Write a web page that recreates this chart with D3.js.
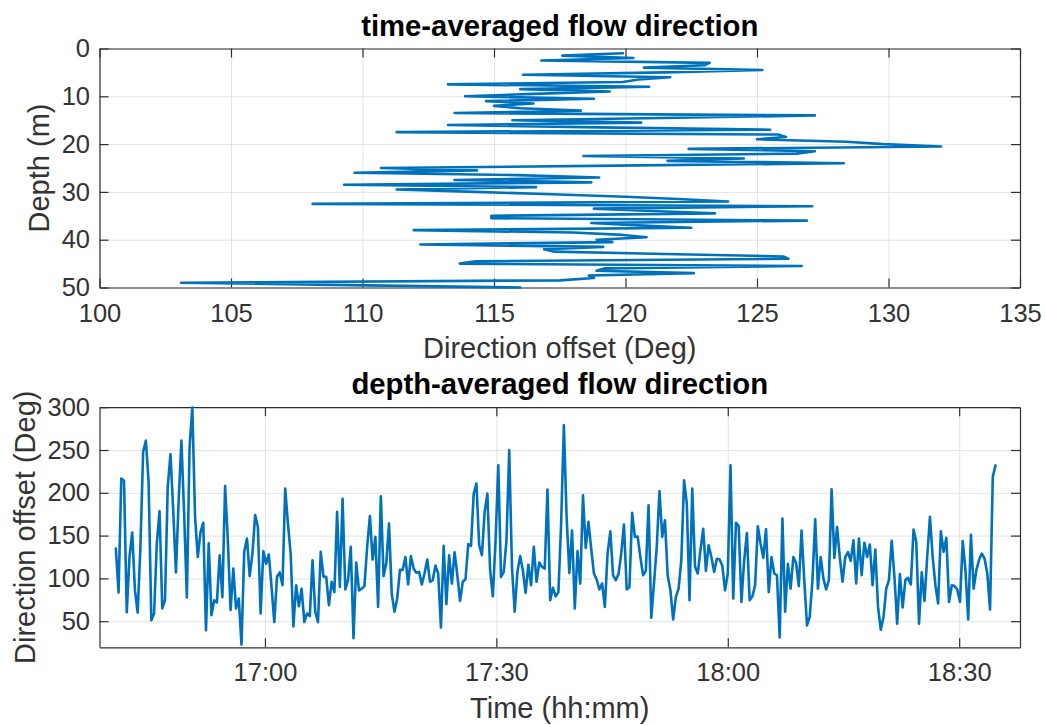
<!DOCTYPE html>
<html>
<head>
<meta charset="utf-8">
<script src="https://cdn.jsdelivr.net/npm/d3@7"></script>
<style>
  body { margin: 0; background: #fff; }
  svg { display: block; font-family: "Liberation Sans", Arial, Helvetica, sans-serif; }
</style>
</head>
<body>
<svg id="chart" width="1045" height="725"></svg>
<script>
// ---- time-averaged profile: direction offset per depth bin ----
const depthBins = [
  1, 1.5, 2, 2.5, 3, 3.5, 4, 4.5, 5, 5.5,
  6, 6.5, 7, 7.5, 8, 8.5, 9, 9.5, 10, 10.5,
  11, 11.5, 12, 12.5, 13, 13.5, 14, 14.5, 15, 15.5,
  16, 16.5, 17, 17.5, 18, 18.5, 19, 19.5, 20, 20.5,
  21, 21.5, 22, 22.5, 23, 23.5, 24, 24.5, 25, 25.5,
  26, 26.5, 27, 27.5, 28, 28.5, 29, 29.5, 30, 30.5,
  31, 31.5, 32, 32.5, 33, 33.5, 34, 34.5, 35, 35.5,
  36, 36.5, 37, 37.5, 38, 38.5, 39, 39.5, 40, 40.5,
  41, 41.5, 42, 42.5, 43, 43.5, 44, 44.5, 45, 45.5,
  46, 46.5, 47, 47.5, 48, 48.5, 49, 49.5, 50
];
const timeAvgDir = [
  119.9, 117.6, 120.3, 116.8, 123.2, 123.0, 120.7, 125.2, 121.5, 116.1,
  121.7, 120.5, 119.9, 113.25, 120.9, 116.0, 119.4, 116.5, 113.9, 118.8,
  114.7, 116.5, 115.0, 116.0, 118.3, 113.5, 127.2, 122.0, 115.7, 120.6,
  113.25, 119.0, 125.5, 111.3, 125.8, 126.1, 125.0, 128.4, 129.8, 132.0,
  122.4, 127.2, 126.5, 118.4, 124.5, 121.6, 128.3, 119.7, 110.7, 114.35,
  109.7, 115.9, 119.0, 113.5, 118.7, 109.3, 116.6, 111.3, 114.3, 117.2,
  120.0, 122.0, 123.9, 108.1, 127.1, 118.8, 121.0, 123.4, 114.9, 114.9,
  126.9, 118.7, 120.5, 122.5, 111.95, 118.0, 119.9, 120.8, 118.9, 119.5,
  112.2, 119.15, 116.9, 117.3, 121.5, 126.0, 126.2, 114.3, 113.7, 126.7,
  119.2, 118.9, 122.6, 118.6, 118.8, 117.5, 103.1, 109.5, 116.0
];

// ---- depth-averaged series: one ensemble every 21.25 s ----
const sampleStart = [16, 40, 40];      // hh, mm, ss
const sampleStepSec = 21.25;
const depthAvgDir = [
  135, 83.5, 216.7, 214, 60.5, 125, 153.6, 86, 60, 137,
  248, 261, 213, 51, 59, 141, 178.5, 65, 74.5, 207,
  245, 180, 107, 191, 261, 176, 77.6, 253.7, 299.6, 172,
  125, 154, 165, 39.5, 141, 57, 74.5, 72, 127, 78,
  208, 144.6, 63, 111.5, 65, 76.5,
  22.7, 131, 146.6, 102.6, 129, 174, 160, 59, 131.8, 117,
  128, 90, 49, 102, 107, 92, 205, 164, 129, 44,
  92, 67.5, 88, 49, 59, 56, 121, 61, 49, 131,
  102, 102, 68.7, 96, 84, 177.7, 90, 193, 87, 98,
  137, 30, 118.5, 86, 88, 91, 137, 172.7,
  122, 148.5, 66.7, 196, 102.6, 118, 164, 82, 61, 76.5,
  110, 110, 125, 93, 126, 111.5, 106.5, 107.6, 93, 105.7,
  122, 96, 98, 115, 105.7, 42.6, 138, 70, 127, 94,
  130.6, 103.7, 73.8, 96, 99, 140, 138, 199, 210.8, 138.8,
  127, 177.7, 199, 109.6, 79, 144.6, 232,
  101.8, 107.6, 144.6, 249.8, 113.5, 61, 107.6, 126, 109.6, 83,
  116, 92, 137, 96, 118.5, 113.5, 111.5, 203.8, 74.5, 89,
  79, 84, 164, 279, 172, 106.5, 156, 65, 132, 94,
  197, 135.7, 166, 135, 105.7, 98.7, 87, 94, 66.7, 129,
  155, 103.7, 98, 105, 129, 163, 87, 90,
  176.6, 148.5, 149, 125, 103.7, 108.8, 185.5, 54, 94.8, 137,
  202, 148.5, 168, 103.7, 86, 52, 78.4, 88, 122, 214.7,
  187.5, 74.5, 205, 114, 105.7, 133, 158, 108.8, 138.8, 125,
  107.6, 123, 122, 115, 86, 105.7, 232, 76.5, 165, 161,
  72.6, 121, 153, 74.5, 79, 92, 161,
  140.7, 124, 157.5, 84, 125, 105.7, 103.7, 31, 170, 61,
  117, 88, 125, 118, 91, 156, 98, 45, 55, 98,
  169, 88, 125, 100, 87, 98, 204, 124, 160, 125,
  96, 125, 130.6, 120.5, 144.6, 94, 146.6, 103.7, 141.5, 125,
  139.6, 92, 133.7, 66.7, 40, 55, 88,
  98, 144, 102, 47, 105, 66, 98, 100.6, 93, 157,
  142.7, 47, 107, 73.8, 125, 172, 125, 92, 70.6, 155,
  131, 147.4, 72.6, 92, 91, 87, 72.6, 143.5, 109.6, 52,
  151, 88, 109.6, 122, 129, 123, 105.7, 63.6, 218.6, 232
];

// ---- tick values ----
const topXTicks = [100, 105, 110, 115, 120, 125, 130, 135];
const topYTicks = [0, 10, 20, 30, 40, 50];
const botYTicks = [50, 100, 150, 200, 250, 300];
const botXTickLabels = ["17:00", "17:30", "18:00", "18:30"];

// ---- helpers ----
const day = (h, m, s) => new Date(2020, 0, 1, h, m, s);
const hm = str => { const [h, m] = str.split(":").map(Number); return day(h, m, 0); };

const TEXT = "#333333";
const AXIS = "#303030";
const GRID = "#e3e3e3";
const LINE = "#0072BD";
const TICK_FS = 25.5;
const LABEL_FS = 29;
const TITLE_FS = 29.3;
const TICK_LEN = 9;
const LINE_W = 2.6;

const svg = d3.select("#chart");
svg.append("rect").attr("width", 1045).attr("height", 725).attr("fill", "#fff");

function drawAxes(box, xs, ys, xTicks, yTicks, xFmt, yFmt) {
  const g = svg.append("g");
  const w = box.right - box.left, h = box.bottom - box.top;

  // grid
  g.append("g").attr("transform", `translate(0,${box.bottom})`)
    .call(d3.axisBottom(xs).tickValues(xTicks).tickSize(-h).tickFormat(""))
    .call(a => a.select(".domain").remove())
    .selectAll("line").attr("stroke", GRID).attr("stroke-width", 1);
  g.append("g").attr("transform", `translate(${box.left},0)`)
    .call(d3.axisLeft(ys).tickValues(yTicks).tickSize(-w).tickFormat(""))
    .call(a => a.select(".domain").remove())
    .selectAll("line").attr("stroke", GRID).attr("stroke-width", 1);

  const style = sel => {
    sel.selectAll(".domain").attr("stroke", AXIS).attr("stroke-width", 1.2);
    sel.selectAll(".tick line").attr("stroke", AXIS).attr("stroke-width", 1.2);
    sel.selectAll("text").attr("fill", TEXT).attr("font-size", TICK_FS)
      .attr("font-family", '"Liberation Sans", Arial, Helvetica, sans-serif');
  };

  // inward ticks on all four sides, labels on bottom and left
  g.append("g").attr("transform", `translate(0,${box.bottom})`)
    .call(d3.axisBottom(xs).tickValues(xTicks).tickFormat(xFmt)
      .tickSizeInner(-TICK_LEN).tickSizeOuter(0).tickPadding(16))
    .call(style);
  g.append("g").attr("transform", `translate(0,${box.top})`)
    .call(d3.axisTop(xs).tickValues(xTicks).tickFormat("")
      .tickSizeInner(-TICK_LEN).tickSizeOuter(0))
    .call(style);
  g.append("g").attr("transform", `translate(${box.left},0)`)
    .call(d3.axisLeft(ys).tickValues(yTicks).tickFormat(yFmt)
      .tickSizeInner(-TICK_LEN).tickSizeOuter(0).tickPadding(9.5))
    .call(style);
  g.append("g").attr("transform", `translate(${box.right},0)`)
    .call(d3.axisRight(ys).tickValues(yTicks).tickFormat("")
      .tickSizeInner(-TICK_LEN).tickSizeOuter(0))
    .call(style);
  return g;
}

function label(x, y, text, opts = {}) {
  const t = svg.append("text")
    .attr("x", x).attr("y", y)
    .attr("text-anchor", "middle")
    .attr("fill", opts.fill || TEXT)
    .attr("font-size", opts.size || LABEL_FS)
    .attr("font-weight", opts.bold ? "bold" : "normal")
    .text(text);
  if (opts.rotate) t.attr("transform", `rotate(-90,${x},${y})`);
  return t;
}

// ---- top panel: time-averaged flow direction vs depth ----
const T = { left: 99.5, right: 1020, top: 48.5, bottom: 287.5 };
const xTop = d3.scaleLinear().domain([100, 135]).range([T.left, T.right]);
const yTop = d3.scaleLinear().domain([0, 50]).range([T.top, T.bottom]);

drawAxes(T, xTop, yTop, topXTicks, topYTicks, d3.format("d"), d3.format("d"));

svg.append("path")
  .datum(depthBins.map((d, i) => [timeAvgDir[i], d]))
  .attr("fill", "none").attr("stroke", LINE).attr("stroke-width", LINE_W)
  .attr("stroke-linejoin", "round").attr("stroke-linecap", "round")
  .attr("d", d3.line().x(p => xTop(p[0])).y(p => yTop(p[1])));

label((T.left + T.right) / 2, 36, "time-averaged flow direction", { bold: true, fill: "#000", size: TITLE_FS });
label((T.left + T.right) / 2, 358, "Direction offset (Deg)");
label(49, (T.top + T.bottom) / 2, "Depth (m)", { rotate: true });

// ---- bottom panel: depth-averaged flow direction vs time ----
const B = { left: 99.5, right: 1020, top: 407.2, bottom: 647.3 };
const xBot = d3.scaleTime().domain([day(16, 38, 33), day(18, 37, 53)]).range([B.left, B.right]);
const yBot = d3.scaleLinear().domain([19.5, 300]).range([B.bottom, B.top]);

const t0 = day(...sampleStart).getTime();
const series = depthAvgDir.map((v, i) => [new Date(t0 + i * sampleStepSec * 1000), v]);

drawAxes(B, xBot, yBot, botXTickLabels.map(hm), botYTicks, d3.timeFormat("%H:%M"), d3.format("d"));

svg.append("path")
  .datum(series)
  .attr("fill", "none").attr("stroke", LINE).attr("stroke-width", LINE_W)
  .attr("stroke-linejoin", "round").attr("stroke-linecap", "round")
  .attr("d", d3.line().x(p => xBot(p[0])).y(p => yBot(p[1])));

label((B.left + B.right) / 2, 394, "depth-averaged flow direction", { bold: true, fill: "#000", size: TITLE_FS });
label((B.left + B.right) / 2, 718, "Time (hh:mm)");
label(35, (B.top + B.bottom) / 2, "Direction offset (Deg)", { rotate: true });
</script>
</body>
</html>
